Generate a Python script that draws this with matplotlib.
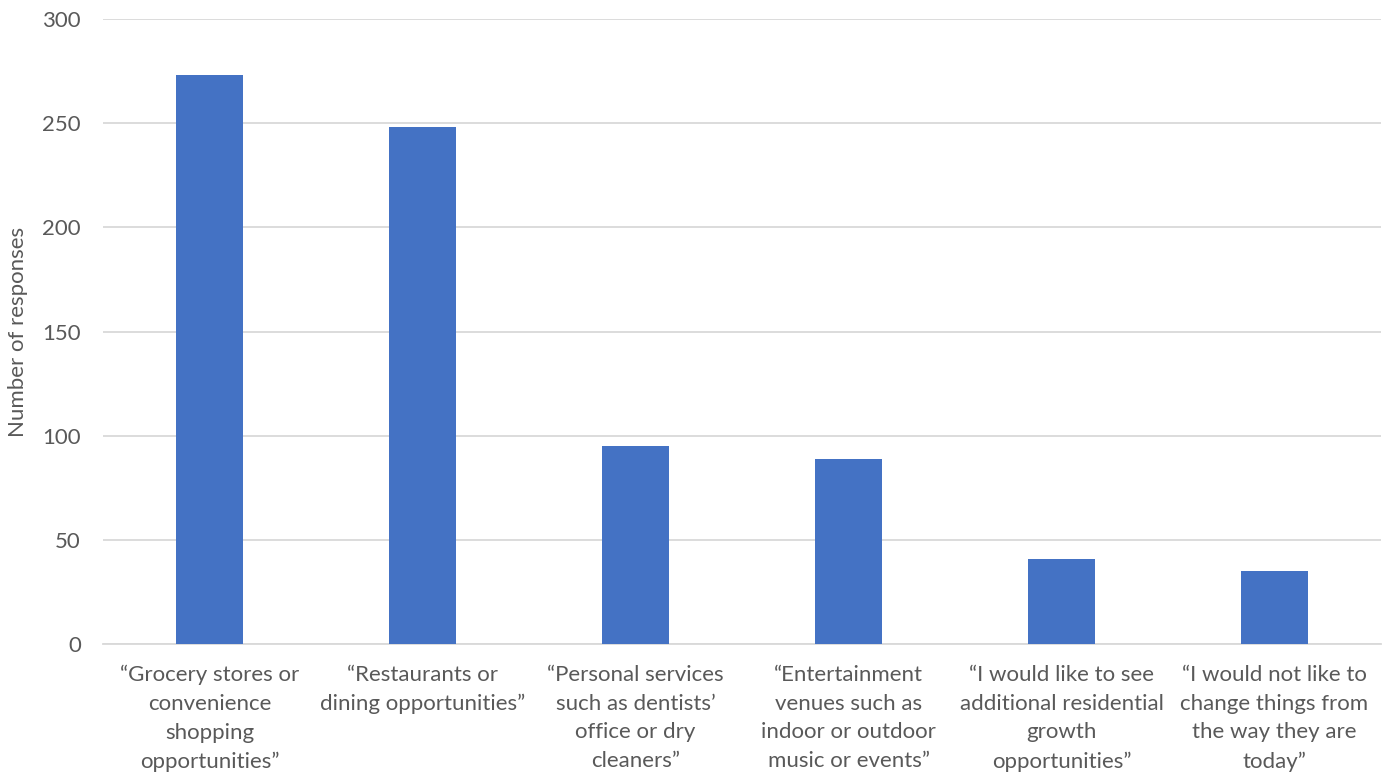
import matplotlib
matplotlib.use("Agg")
import matplotlib.pyplot as plt

# survey answers and counts
categories = [
    "\u201cGrocery stores or\nconvenience\nshopping\nopportunities\u201d",
    "\u201cRestaurants or\ndining opportunities\u201d",
    "\u201cPersonal services\nsuch as dentists\u2019\noffice or dry\ncleaners\u201d",
    "\u201cEntertainment\nvenues such as\nindoor or outdoor\nmusic or events\u201d",
    "\u201cI would like to see\nadditional residential\ngrowth\nopportunities\u201d",
    "\u201cI would not like to\nchange things from\nthe way they are\ntoday\u201d",
]
responses = [273, 248, 95, 89, 41, 35]
yticks = [0, 50, 100, 150, 200, 250, 300]

plt.rcParams['font.family'] = ['Lato', 'DejaVu Sans']
text_color = '#595959'

fig = plt.figure(figsize=(13.9, 7.76), dpi=100)
ax = fig.add_axes([103 / 1390, 1 - 644 / 776, (1381 - 103) / 1390, (644 - 19) / 776])

x = range(len(categories))
ax.bar(x, responses, width=0.315, color='#4472C4', zorder=3)

ax.set_xlim(-0.5, len(categories) - 0.5)
ax.set_ylim(0, 300)
ax.set_yticks(yticks)
ax.set_xticks(list(x))
ax.set_xticklabels(categories, fontsize=16, color=text_color, linespacing=1.55, va='top')
ax.tick_params(axis='y', labelsize=16, labelcolor=text_color, length=0, pad=16)
ax.tick_params(axis='x', length=0, pad=15)
ax.yaxis.grid(True, color='#D9D9D9', linewidth=1.3, zorder=0)
for s in ['top', 'right', 'left']:
    ax.spines[s].set_visible(False)
ax.spines['bottom'].set_color('#D9D9D9')
ax.spines['bottom'].set_linewidth(1.3)
ax.set_ylabel('Number of responses', fontsize=16, color=text_color, labelpad=10)

fig.savefig('out.png', dpi=100)
